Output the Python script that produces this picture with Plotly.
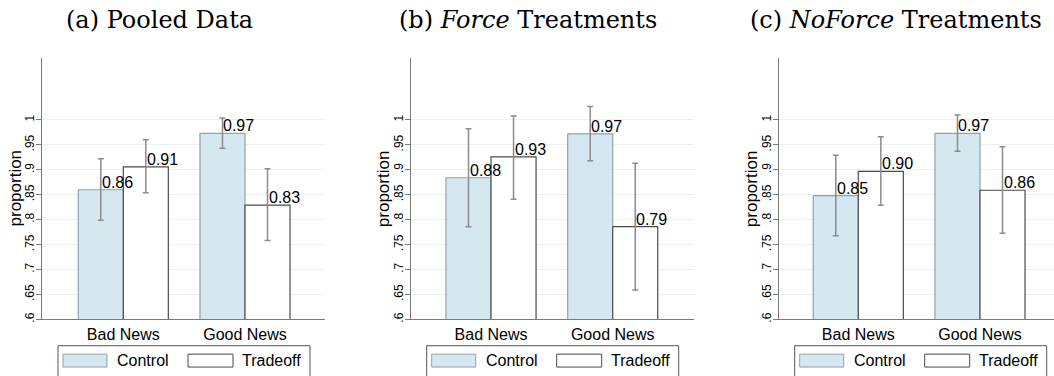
import plotly.graph_objects as go

W, H = 1054, 376

categories = ["Bad News", "Good News"]
series_names = ["Control", "Tradeoff"]
panel_titles = ["(a) Pooled Data", "(b) <i>Force</i> Treatments", "(c) <i>NoForce</i> Treatments"]

# Panel (a) Pooled Data
control_a = [0.860, 0.973]
control_a_lo = [0.799, 0.943]
control_a_hi = [0.922, 1.004]
tradeoff_a = [0.906, 0.829]
tradeoff_a_lo = [0.854, 0.758]
tradeoff_a_hi = [0.960, 0.902]

# Panel (b) Force
control_b = [0.884, 0.972]
control_b_lo = [0.786, 0.918]
control_b_hi = [0.982, 1.027]
tradeoff_b = [0.926, 0.786]
tradeoff_b_lo = [0.841, 0.659]
tradeoff_b_hi = [1.008, 0.913]

# Panel (c) NoForce
control_c = [0.848, 0.973]
control_c_lo = [0.768, 0.937]
control_c_hi = [0.929, 1.010]
tradeoff_c = [0.897, 0.859]
tradeoff_c_lo = [0.829, 0.773]
tradeoff_c_hi = [0.966, 0.946]

y_tickvals = [0.6, 0.65, 0.7, 0.75, 0.8, 0.85, 0.9, 0.95, 1.0]
y_ticktext = [".6", ".65", ".7", ".75", ".8", ".85", ".9", ".95", "1"]

panels = [
    (control_a, control_a_lo, control_a_hi, tradeoff_a, tradeoff_a_lo, tradeoff_a_hi),
    (control_b, control_b_lo, control_b_hi, tradeoff_b, tradeoff_b_lo, tradeoff_b_hi),
    (control_c, control_c_lo, control_c_hi, tradeoff_c, tradeoff_c_lo, tradeoff_c_hi),
]

# layout geometry (pixels)
axis_left = [42, 410.7, 778.7]
plot_w = 283
px_per_cat = 121.7
left_offset = [0.668, 0.66, 0.654]
y_top_px, y_bot_px = 58, 322

CTRL_FILL = "#d5e8f0"
CTRL_LINE = "#8ea3ab"
TRD_FILL = "#ffffff"
TRD_LINE = "#4a4a4a"
ERR_COL = "#8c8c8c"
AXIS_COL = "#7a7a7a"
GRID_COL = "#e9f1f3"
SANS = "Liberation Sans, Arial, sans-serif"
SERIF = "DejaVu Serif, serif"

bargap = 0.26
bar_w = (1 - bargap) / 2
xs = list(range(len(categories)))

fig = go.Figure()
annotations = []
shapes = []

for i, (c, clo, chi, t, tlo, thi) in enumerate(panels):
    sfx = "" if i == 0 else str(i + 1)
    xa, ya = "x" + sfx, "y" + sfx
    fig.add_trace(go.Bar(
        x=xs, y=c, name=series_names[0], xaxis=xa, yaxis=ya, showlegend=False,
        marker=dict(color=CTRL_FILL, line=dict(color=CTRL_LINE, width=1.2)),
        error_y=dict(type="data", symmetric=False,
                     array=[h - v for h, v in zip(chi, c)],
                     arrayminus=[v - l for v, l in zip(c, clo)],
                     color=ERR_COL, thickness=1.5, width=3),
    ))
    fig.add_trace(go.Bar(
        x=xs, y=t, name=series_names[1], xaxis=xa, yaxis=ya, showlegend=False,
        marker=dict(color=TRD_FILL, line=dict(color=TRD_LINE, width=1.2)),
        error_y=dict(type="data", symmetric=False,
                     array=[h - v for h, v in zip(thi, t)],
                     arrayminus=[v - l for v, l in zip(t, tlo)],
                     color=ERR_COL, thickness=1.5, width=3),
    ))
    # value labels, left-aligned at bar centre
    for k in xs:
        for off, vals in ((-bar_w / 2, c), (bar_w / 2, t)):
            annotations.append(dict(
                x=k + off, y=vals[k], xref=xa, yref=ya, text=f"{vals[k]:.2f}",
                showarrow=False, xanchor="left", yanchor="bottom", yshift=-3, xshift=-1,
                font=dict(family=SANS, size=16, color="#000000"),
            ))

    x0 = axis_left[i] / W
    x1 = min((axis_left[i] + plot_w) / W, 1.0)
    r0 = -left_offset[i]
    r1 = r0 + (min(axis_left[i] + plot_w, W) - axis_left[i]) / px_per_cat
    dom_y = [(H - y_bot_px) / H, (H - y_top_px) / H]
    xkey = "xaxis" + sfx
    ykey = "yaxis" + sfx
    fig.update_layout(**{
        xkey: dict(domain=[x0, x1], range=[r0, r1], anchor=ya,
                   tickvals=xs, ticktext=categories, showgrid=False, zeroline=False,
                   showline=True, linecolor=AXIS_COL, linewidth=1, ticks="",
                   tickfont=dict(family=SANS, size=16, color="#000000")),
        ykey: dict(domain=dom_y, range=[0.6, 1.125], anchor=xa,
                   tickvals=y_tickvals, ticktext=y_ticktext, tickangle=-90,
                   ticklabelstandoff=-3,
                   showgrid=True, gridcolor=GRID_COL, gridwidth=1, zeroline=False,
                   showline=True, linecolor=AXIS_COL, linewidth=1,
                   ticks="outside", ticklen=5, tickcolor=AXIS_COL,
                   tickfont=dict(family=SANS, size=12, color="#000000")),
    })

    # panel title
    annotations.append(dict(
        x=(axis_left[i] + 117) / W, y=(H - 20) / H, xref="paper", yref="paper",
        text=panel_titles[i], showarrow=False, xanchor="center", yanchor="middle",
        font=dict(family=SERIF, size=24, color="#000000"),
    ))
    # y-axis title
    annotations.append(dict(
        x=(axis_left[i] - 27) / W, y=(H - 190) / H, xref="paper", yref="paper",
        text="proportion", showarrow=False, textangle=-90,
        xanchor="center", yanchor="middle",
        font=dict(family=SANS, size=17, color="#000000"),
    ))

    # legend box drawn below each panel
    bl = axis_left[i] + 16
    def px(xp):
        return xp / W
    def py(yp):
        return (H - yp) / H
    shapes.append(dict(type="rect", xref="paper", yref="paper",
                       x0=px(bl), x1=px(bl + 252), y0=py(348.5), y1=py(382),
                       line=dict(color="#555555", width=1), fillcolor="rgba(0,0,0,0)"))
    shapes.append(dict(type="rect", xref="paper", yref="paper",
                       x0=px(bl + 5), x1=px(bl + 49), y0=py(357), y1=py(370),
                       line=dict(color=CTRL_LINE, width=1), fillcolor=CTRL_FILL))
    shapes.append(dict(type="rect", xref="paper", yref="paper",
                       x0=px(bl + 130), x1=px(bl + 175), y0=py(357), y1=py(370),
                       line=dict(color=TRD_LINE, width=1), fillcolor=TRD_FILL))
    annotations.append(dict(x=px(bl + 57), y=py(363.5), xref="paper", yref="paper",
                            text=series_names[0], showarrow=False, xanchor="left", yanchor="middle",
                            font=dict(family=SANS, size=16, color="#000000")))
    annotations.append(dict(x=px(bl + 182), y=py(363.5), xref="paper", yref="paper",
                            text=series_names[1], showarrow=False, xanchor="left", yanchor="middle",
                            font=dict(family=SANS, size=16, color="#000000")))

fig.update_layout(
    width=W, height=H, margin=dict(l=0, r=0, t=0, b=0),
    paper_bgcolor="#ffffff", plot_bgcolor="#ffffff",
    barmode="group", bargap=bargap, bargroupgap=0,
    annotations=annotations, shapes=shapes, showlegend=False,
)

fig.write_html("out.html")
